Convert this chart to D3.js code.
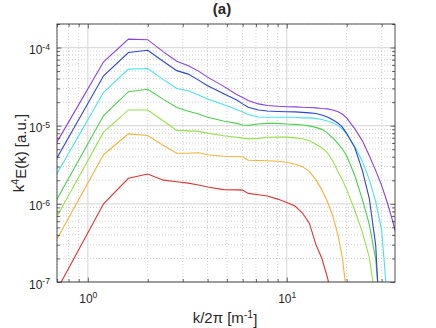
<!DOCTYPE html>
<html>
<head>
<meta charset="utf-8">
<script src="https://cdn.jsdelivr.net/npm/d3@7"></script>
<style>
  body { margin: 0; background: #fff; }
  text { font-family: "Liberation Sans", Arial, sans-serif; fill: #262626; }
</style>
</head>
<body>
<svg id="chart" width="436" height="328"></svg>
<script>
// wavenumber k/2pi [1/m]
const kWave = [0.4, 0.8, 1.2, 1.6, 2.0, 2.4, 2.8, 3.2, 3.6, 4.0, 4.8, 5.6, 6.0, 6.4, 7.2, 8.0, 9.0, 10,
  11, 12, 13, 14, 15, 16, 17, 18, 19, 20, 22, 24, 26, 28, 30, 32, 34, 36];

// k^4 E(k), one array per curve (top to bottom)
const purple = [5.38e-7, 1.11e-5, 6.56e-5, 1.28e-4, 1.26e-4, 8.81e-5, 6.69e-5, 5.83e-5, 4.99e-5, 4.18e-5,
  3.21e-5, 2.50e-5, 2.29e-5, 2.10e-5, 1.90e-5, 1.81e-5, 1.77e-5, 1.75e-5, 1.74e-5, 1.72e-5,
  1.71e-5, 1.69e-5, 1.66e-5, 1.64e-5, 1.59e-5, 1.52e-5, 1.41e-5, 1.26e-5, 9.10e-6, 6.40e-6,
  4.12e-6, 2.66e-6, 1.71e-6, 1.04e-6, 6.13e-7, 3.51e-7];
const blue = [3.15e-7, 7.05e-6, 4.35e-5, 8.64e-5, 9.24e-5, 6.63e-5, 5.06e-5, 4.57e-5, 3.83e-5, 3.24e-5,
  2.58e-5, 2.13e-5, 1.90e-5, 1.72e-5, 1.59e-5, 1.54e-5, 1.52e-5, 1.51e-5, 1.50e-5, 1.48e-5,
  1.46e-5, 1.43e-5, 1.37e-5, 1.29e-5, 1.19e-5, 1.09e-5, 9.65e-6, 7.98e-6, 5.21e-6, 2.66e-6,
  1.17e-6, 2.94e-7, 1.04e-8, null, null, null];
const cyan = [2.01e-7, 4.40e-6, 2.67e-5, 5.29e-5, 5.40e-5, 3.88e-5, 2.99e-5, 2.80e-5, 2.47e-5, 2.19e-5,
  1.87e-5, 1.61e-5, 1.50e-5, 1.39e-5, 1.29e-5, 1.28e-5, 1.28e-5, 1.28e-5, 1.28e-5, 1.26e-5,
  1.26e-5, 1.24e-5, 1.20e-5, 1.15e-5, 1.09e-5, 1.01e-5, 9.10e-6, 7.86e-6, 5.37e-6, 3.49e-6,
  2.04e-6, 1.07e-6, 4.57e-7, 6.04e-8, null, null];
const green = [8.87e-8, 2.11e-6, 1.35e-5, 2.72e-5, 2.92e-5, 2.17e-5, 1.71e-5, 1.53e-5, 1.41e-5, 1.28e-5,
  1.15e-5, 1.07e-5, 1.02e-5, 1.01e-5, 1.05e-5, 1.07e-5, 1.07e-5, 1.05e-5, 1.04e-5, 1.02e-5,
  9.94e-6, 9.51e-6, 8.97e-6, 8.10e-6, 6.99e-6, 6.04e-6, 5.06e-6, 4.12e-6, 2.29e-6, 1.13e-6,
  5.45e-7, 1.95e-7, 2.50e-8, null, null, null];
const lime = [5.31e-8, 1.28e-6, 8.26e-6, 1.59e-5, 1.59e-5, 1.15e-5, 8.71e-6, 8.59e-6, 8.46e-6, 8.03e-6,
  7.42e-6, 7.10e-6, 6.93e-6, 6.79e-6, 6.89e-6, 7.10e-6, 7.14e-6, 7.14e-6, 6.99e-6, 6.79e-6,
  6.40e-6, 5.78e-6, 5.21e-6, 4.50e-6, 3.56e-6, 2.66e-6, 2.04e-6, 1.52e-6, 8.21e-7, 4.31e-7,
  2.07e-7, 5.69e-8, null, null, null, null];
const orange = [2.73e-8, 6.59e-7, 4.25e-6, 7.86e-6, 7.48e-6, 5.58e-6, 4.44e-6, 4.44e-6, 4.50e-6, 4.25e-6,
  4.06e-6, 4.00e-6, 4.00e-6, 3.61e-6, 3.58e-6, 3.56e-6, 3.51e-6, 3.41e-6, 3.21e-6, 2.99e-6,
  2.58e-6, 2.04e-6, 1.52e-6, 1.07e-6, 7.10e-7, 4.18e-7, 2.13e-7, 6.99e-8, null, null,
  null, null, null, null, null, null];
const red = [5.69e-9, 1.49e-7, 1.00e-6, 2.12e-6, 2.41e-6, 2.01e-6, 1.92e-6, 1.84e-6, 1.74e-6, 1.64e-6,
  1.52e-6, 1.51e-6, 1.50e-6, 1.36e-6, 1.31e-6, 1.26e-6, 1.15e-6, 1.04e-6, 9.38e-7, 7.63e-7,
  5.61e-7, 3.03e-7, 2.01e-7, 1.15e-7, 6.04e-8, null, null, null, null, null,
  null, null, null, null, null, null];

const series = [
  { values: red, color: "#e03232" },
  { values: orange, color: "#f4b43c" },
  { values: lime, color: "#98e04a" },
  { values: green, color: "#4ccf4c" },
  { values: cyan, color: "#48e2ee" },
  { values: blue, color: "#2b46d6" },
  { values: purple, color: "#8a40e4" }
];

const xDomain = [0.7, 35];
const yDomain = [1e-7, 2e-4];

const W = 436, H = 328;
const m = { left: 57, right: 41, top: 24, bottom: 46 };
const iw = W - m.left - m.right, ih = H - m.top - m.bottom;

const svg = d3.select("#chart");
const g = svg.append("g").attr("transform", "translate(" + m.left + "," + m.top + ")");

const x = d3.scaleLog().domain(xDomain).range([0, iw]);
const y = d3.scaleLog().domain(yDomain).range([ih, 0]);

const isDecade = v => Math.abs(Math.log10(v) - Math.round(Math.log10(v))) < 1e-6;
const xMajor = x.ticks().filter(isDecade), xMinor = x.ticks().filter(v => !isDecade(v));
const yMajor = y.ticks().filter(isDecade), yMinor = y.ticks().filter(v => !isDecade(v));

// grid
const grid = g.append("g");
grid.selectAll(".vmin").data(xMinor).enter().append("line")
  .attr("x1", d => x(d)).attr("x2", d => x(d)).attr("y1", 0).attr("y2", ih)
  .attr("stroke", "#c4c4c4").attr("stroke-width", 0.8).attr("stroke-dasharray", "1,2");
grid.selectAll(".hmin").data(yMinor).enter().append("line")
  .attr("x1", 0).attr("x2", iw).attr("y1", d => y(d)).attr("y2", d => y(d))
  .attr("stroke", "#c4c4c4").attr("stroke-width", 0.8).attr("stroke-dasharray", "1,2");
grid.selectAll(".vmaj").data(xMajor).enter().append("line")
  .attr("x1", d => x(d)).attr("x2", d => x(d)).attr("y1", 0).attr("y2", ih)
  .attr("stroke", "#dcdcdc").attr("stroke-width", 1.2);
grid.selectAll(".hmaj").data(yMajor).enter().append("line")
  .attr("x1", 0).attr("x2", iw).attr("y1", d => y(d)).attr("y2", d => y(d))
  .attr("stroke", "#dcdcdc").attr("stroke-width", 1.2);

// curves
g.append("clipPath").attr("id", "clip").append("rect").attr("width", iw).attr("height", ih);
const line = d3.line()
  .defined(d => d.v != null)
  .x(d => x(d.k))
  .y(d => y(d.v));
g.append("g").attr("clip-path", "url(#clip)")
  .selectAll("path").data(series).enter().append("path")
  .attr("fill", "none")
  .attr("stroke", d => d.color)
  .attr("stroke-width", 1.1)
  .attr("d", d => line(d.values.map((v, i) => ({ k: kWave[i], v: v }))));

// axes (ticks inside, on all four sides)
function styleAxis(sel) {
  sel.select(".domain").remove();
  sel.selectAll("line").attr("stroke", "#262626").attr("stroke-width", 0.7);
}
function supLabels(sel, size) {
  sel.selectAll("text").each(function (d) {
    const t = d3.select(this);
    t.text(null).attr("font-size", size).attr("fill", "#262626");
    t.append("tspan").text("10");
    t.append("tspan").attr("dy", "-0.5em").attr("font-size", size * 0.72).text(Math.round(Math.log10(d)));
  });
}

g.append("g").attr("transform", "translate(0," + ih + ")")
  .call(d3.axisBottom(x).tickValues(xMajor).tickSizeInner(-4.5).tickSizeOuter(0).tickPadding(12))
  .call(styleAxis).call(s => supLabels(s, 12));
g.append("g").attr("transform", "translate(0," + ih + ")")
  .call(d3.axisBottom(x).tickValues(xMinor).tickSizeInner(-3).tickSizeOuter(0).tickFormat(""))
  .call(styleAxis);
g.append("g")
  .call(d3.axisTop(x).tickValues(xMajor).tickSizeInner(-4.5).tickSizeOuter(0).tickFormat(""))
  .call(styleAxis);
g.append("g")
  .call(d3.axisTop(x).tickValues(xMinor).tickSizeInner(-3).tickSizeOuter(0).tickFormat(""))
  .call(styleAxis);

g.append("g")
  .call(d3.axisLeft(y).tickValues(yMajor).tickSizeInner(-4.5).tickSizeOuter(0).tickPadding(7))
  .call(styleAxis).call(s => supLabels(s, 12))
  .call(s => s.selectAll("text").attr("dy", "0.5em"));
g.append("g")
  .call(d3.axisLeft(y).tickValues(yMinor).tickSizeInner(-3).tickSizeOuter(0).tickFormat(""))
  .call(styleAxis);
g.append("g").attr("transform", "translate(" + iw + ",0)")
  .call(d3.axisRight(y).tickValues(yMajor).tickSizeInner(-4.5).tickSizeOuter(0).tickFormat(""))
  .call(styleAxis);
g.append("g").attr("transform", "translate(" + iw + ",0)")
  .call(d3.axisRight(y).tickValues(yMinor).tickSizeInner(-3).tickSizeOuter(0).tickFormat(""))
  .call(styleAxis);

// box
g.append("rect").attr("width", iw).attr("height", ih)
  .attr("fill", "none").attr("stroke", "#262626").attr("stroke-width", 0.8);

// labels
const xl = svg.append("text").attr("x", 225).attr("y", 323)
  .attr("text-anchor", "middle").attr("font-size", 15);
xl.append("tspan").text("k/2\u03c0 [m");
xl.append("tspan").attr("dy", "-0.5em").attr("font-size", 10.5).text("-1");
xl.append("tspan").attr("dy", "0.5em").text("]");

const yl = svg.append("text")
  .attr("transform", "translate(24," + (m.top + ih / 2) + ") rotate(-90)")
  .attr("text-anchor", "middle").attr("font-size", 15);
yl.append("tspan").text("k");
yl.append("tspan").attr("dy", "-0.5em").attr("font-size", 10.5).text("4");
yl.append("tspan").attr("dy", "0.5em").text("E(k) [a.u.]");

svg.append("text").attr("x", 222).attr("y", 14)
  .attr("text-anchor", "middle").attr("font-size", 15).attr("font-weight", "bold")
  .text("(a)");
</script>
</body>
</html>
